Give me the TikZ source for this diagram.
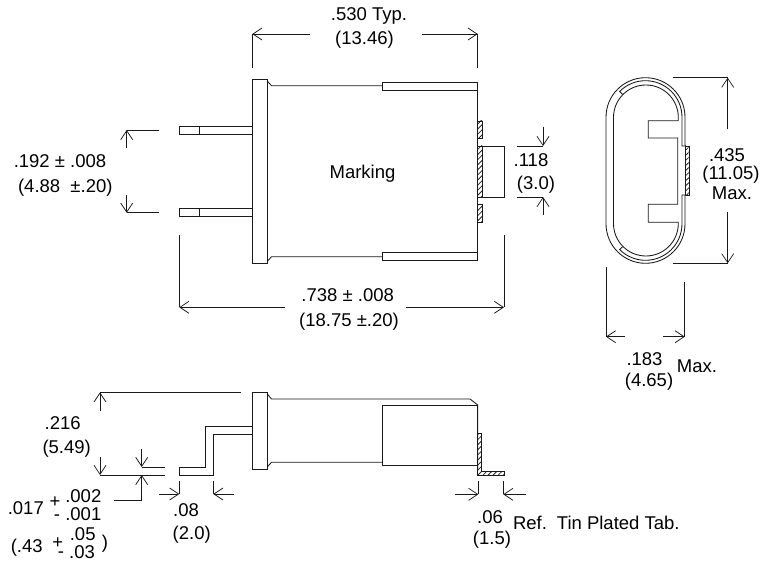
\documentclass[tikz,border=0pt]{standalone}
\usepackage{fontspec}
\setmainfont{Liberation Sans}
\usetikzlibrary{arrows.meta,patterns.meta}
\tikzset{
	outline/.style={line width=0.85pt, black!90},
	dim/.style={line width=0.75pt, black!90},
	dimarrow/.style={dim, -{Straight Barb[length=9pt,width=12pt,line width=0.75pt]}},
	tinhatch/.style={outline, pattern={Lines[angle=45,distance=3.6pt,line width=0.8pt]}, pattern color=black!85},
	dimlabel/.style={inner sep=0pt, text height=13pt, text depth=0pt, font=\fontsize{18.5}{22}\selectfont},
	plussign/.style={dimlabel, text height=10pt},
	minussign/.style={dimlabel, text height=7pt}
}
\begin{document}
\begin{tikzpicture}[x=1pt,y=-1pt]
	\useasboundingbox (0,0) rectangle (774,561);
	\draw[outline] (252.3,79.3) rectangle (267.7,263.7);
	\draw[outline] (267.7,81.5)--(271.5,85.7)--(382.3,85.7);
	\draw[outline] (267.7,261)--(271.5,256.7)--(382.3,256.7);
	\draw[outline] (382.3,82.3) rectangle (477.7,90.7);
	\draw[outline] (382.3,252.3) rectangle (477.7,260.3);
	\draw[outline] (477.7,82.3)--(477.7,260.3);
	\draw[outline] (179.3,126.7) rectangle (252.3,134.7);
	\draw[outline] (199.7,126.7)--(199.7,134.7);
	\draw[outline] (179.3,208) rectangle (252.3,216.3);
	\draw[outline] (199.7,208)--(199.7,216.3);
	\draw[tinhatch] (477.7,121) rectangle (482.3,138.3);
	\draw[tinhatch] (477.7,146) rectangle (482.3,197);
	\draw[tinhatch] (477.7,204.3) rectangle (482.3,222);
	\draw[outline] (482.3,146)--(504,146)--(504,197)--(482.3,197);
	\node[dimlabel] (marking) at (362.5,172) {Marking};

	\draw[dim] (252.3,34)--(252.3,68.3);
	\draw[dim] (477.7,34)--(477.7,68.3);
	\draw[dimarrow] (310,34)--(252.3,34);
	\draw[dimarrow] (422.3,34)--(477.7,34);
	\node[dimlabel] (typ) at (369,14) {.530 Typ.};
	\node[dimlabel] (typmm) at (364.5,38) {(13.46)};

	\draw[dim] (179.3,235)--(179.3,307.3);
	\draw[dim] (504,235)--(504,307.3);
	\draw[dimarrow] (285,307.3)--(179.3,307.3);
	\draw[dimarrow] (406,307.3)--(504,307.3);
	\node[dimlabel] (length) at (347.7,295) {.738 ± .008};
	\node[dimlabel] (lengthmm) at (349,320) {(18.75 ±.20)};

	\draw[dim] (159.3,130)--(126.7,130);
	\draw[dim] (159.3,212.7)--(126.7,212.7);
	\draw[dimarrow] (126.7,148.3)--(126.7,130);
	\draw[dimarrow] (126.7,195)--(126.7,212.7);
	\node[dimlabel] (pitch) at (60,160.7) {.192 ± .008};
	\node[dimlabel] (pitchmm) at (65.3,186) {(4.88 \ ±.20)};

	\draw[dim] (516.7,146)--(543,146);
	\draw[dim] (516.7,197)--(543,197);
	\draw[dimarrow] (543,127)--(543,146);
	\draw[dimarrow] (543,215)--(543,197);
	\node[dimlabel] (tab) at (531,160) {.118};
	\node[dimlabel] (tabmm) at (536,182.7) {(3.0)};

	\draw[outline] (648.3,120.7)--(678.3,120.7)--(678.3,117.4)
		arc [start angle=0, end angle=-180, radius=32.4]
		--(613.5,223.6)
		arc [start angle=180, end angle=0, radius=32.4]
		--(678.3,222.3)--(648.3,222.3)--(648.3,204.3)--(677.7,204.3)--(677.7,138)--(648.3,138)--cycle;
	\draw[outline] (685,146)--(685,117.2)
		arc [start angle=0, end angle=-180, radius=39.5]
		--(606,223.8)
		arc [start angle=180, end angle=0, radius=39.5]
		--(685,195);
	\draw[outline] (685,146)--(682,146)--(682,117.2)
		arc [start angle=0, end angle=-135, radius=36.5]
		--(622.6,94.3);
	\draw[outline] (685,195)--(682,195)--(682,223.8)
		arc [start angle=0, end angle=135, radius=36.5]
		--(622.6,246.7);
	\draw[tinhatch] (685,146) rectangle (689.7,195);

	\draw[dim] (672.7,77.7)--(727.7,77.7);
	\draw[dim] (672.7,263.3)--(727.7,263.3);
	\draw[dimarrow] (727.7,129.3)--(727.7,77.7);
	\draw[dimarrow] (727.7,212.3)--(727.7,263.3);
	\node[dimlabel] (height) at (727,155) {.435};
	\node[dimlabel] (heightmm) at (731,173) {(11.05)};
	\node[dimlabel] (heightmax) at (732,193) {Max.};

	\draw[dim] (606,267.3)--(606,336.7);
	\draw[dim] (684.7,282.3)--(684.7,336.7);
	\draw[dimarrow] (625,336.7)--(606,336.7);
	\draw[dimarrow] (663.3,336.7)--(684.7,336.7);
	\node[dimlabel] (width) at (644.5,359) {.183};
	\node[dimlabel] (widthmm) at (649,380) {(4.65)};
	\node[dimlabel] (widthmax) at (697,366) {Max.};

	\draw[outline] (252.7,392.3) rectangle (267.7,469);
	\draw[outline] (267.7,394.5)--(271.5,399)--(470,399)--(477.7,405)--(477.7,471.3);
	\draw[outline] (267.7,466.5)--(271.5,462.3)--(382.3,462.3);
	\draw[outline] (382.3,405.7) rectangle (477.7,465.7);
	\draw[tinhatch] (477.7,433.3)--(481.3,433.3)--(481.3,471.3)--(504,471.3)--(504,475)--(477.7,475)--cycle;
	\draw[outline] (252.7,426)--(205,426)--(205,467)--(179.3,467)--(179.3,475)--(213.3,475)--(213.3,434)--(252.7,434);

	\draw[dim] (100,392.3)--(241,392.3);
	\draw[dimarrow] (100,410.7)--(100,392.3);
	\draw[dim] (100,475)--(165,475);
	\draw[dim] (141.7,467)--(165,467);
	\draw[dimarrow] (100,457)--(100,475);
	\draw[dimarrow] (141.7,449.3)--(141.7,467);
	\draw[dimarrow] (114.3,500.7)--(141.7,500.7)--(141.7,475);
	\node[dimlabel] (offset) at (62.7,422.7) {.216};
	\node[dimlabel] (offsetmm) at (66.7,446.7) {(5.49)};

	\node[dimlabel] (lead) at (25.8,507.7) {.017};
	\node[plussign] (leadplus) at (55,502) {+};
	\node[minussign] (leadminus) at (57,516.5) {-};
	\node[dimlabel] (leadup) at (83.3,495.7) {.002};
	\node[dimlabel] (leaddown) at (83.3,514.3) {.001};
	\node[dimlabel] (leadmm) at (26.7,546) {(.43};
	\node[plussign] (leadmmplus) at (57.7,543) {+};
	\node[minussign] (leadmmminus) at (61,553.5) {-};
	\node[dimlabel] (leadmmup) at (82.7,534) {.05};
	\node[dimlabel] (leadmmdown) at (82,552) {.03};
	\node[dimlabel] (leadmmclose) at (105,541.7) {)};

	\draw[dim] (179.3,481)--(179.3,494);
	\draw[dim] (213.3,481)--(213.3,494);
	\draw[dimarrow] (159.3,494)--(179.3,494);
	\draw[dimarrow] (234,494)--(213.3,494);
	\node[dimlabel] (foot) at (186,510) {.08};
	\node[dimlabel] (footmm) at (191.7,533.3) {(2.0)};

	\draw[dim] (478.3,481)--(478.3,494.3);
	\draw[dim] (503.3,481)--(503.3,494.3);
	\draw[dimarrow] (454.7,494.3)--(478.3,494.3);
	\draw[dimarrow] (525.7,494.3)--(503.3,494.3);
	\node[dimlabel] (thick) at (490,516.7) {.06};
	\node[dimlabel] (thickmm) at (492,538.3) {(1.5)};
	\node[dimlabel] (ref) at (530,522.7) {Ref.};
	\node[dimlabel, anchor=west] (tin) at (556.7,522.7) {Tin Plated Tab.};
\end{tikzpicture}
\end{document}
